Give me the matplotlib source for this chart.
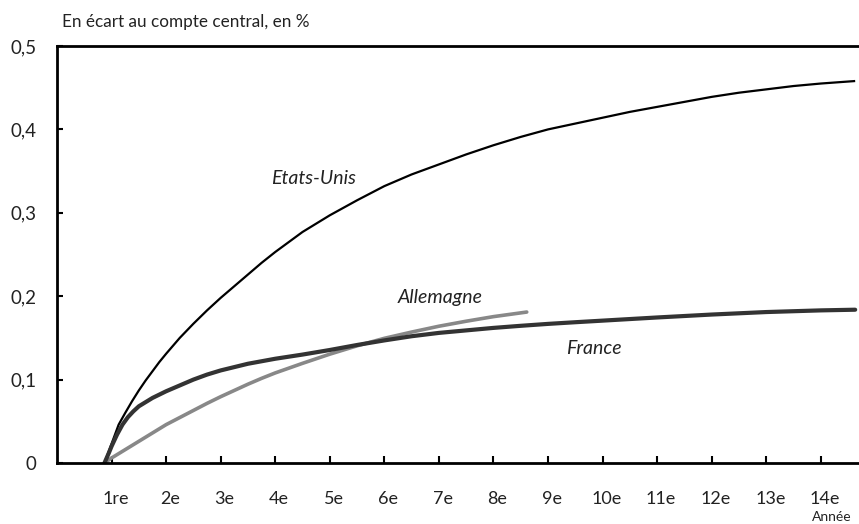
import numpy as np
import matplotlib
matplotlib.use("Agg")
import matplotlib.pyplot as plt
import matplotlib.transforms as mtransforms

plt.rcParams['font.family'] = ['Lato', 'DejaVu Sans']

# data (x in years, y in % deviation)
us_x = [0.87, 1.13, 1.25, 1.375, 1.5, 1.625, 1.75, 1.875, 2.0, 2.25, 2.5, 2.75, 3.0,
        3.25, 3.5, 3.75, 4.0, 4.25, 4.5, 4.75, 5.0, 5.5, 6.0, 6.5, 7.0, 7.5, 8.0,
        8.5, 9.0, 9.5, 10.0, 10.5, 11.0, 11.5, 12.0, 12.5, 13.0, 13.5, 14.0, 14.63]
us_y = [0.0, 0.046, 0.060, 0.074, 0.087, 0.099, 0.110, 0.121, 0.131, 0.150, 0.167,
        0.183, 0.198, 0.212, 0.226, 0.240, 0.253, 0.265, 0.277, 0.287, 0.297, 0.315,
        0.332, 0.346, 0.358, 0.370, 0.381, 0.391, 0.400, 0.407, 0.414, 0.421, 0.427,
        0.433, 0.439, 0.444, 0.448, 0.452, 0.455, 0.458]

fr_x = [0.87, 0.95, 1.0, 1.1, 1.2, 1.3, 1.4, 1.5, 1.625, 1.75, 1.875, 2.0, 2.25, 2.5,
        2.75, 3.0, 3.25, 3.5, 3.75, 4.0, 4.5, 5.0, 5.5, 6.0, 6.5, 7.0, 7.5, 8.0, 8.5,
        9.0, 9.5, 10.0, 11.0, 12.0, 13.0, 14.0, 14.63]
fr_y = [0.0, 0.012, 0.020, 0.034, 0.046, 0.055, 0.062, 0.068, 0.073, 0.078, 0.082,
        0.086, 0.093, 0.100, 0.106, 0.111, 0.115, 0.119, 0.122, 0.125, 0.130, 0.1355,
        0.1415, 0.147, 0.152, 0.156, 0.159, 0.162, 0.1645, 0.1668, 0.1688, 0.1707,
        0.1745, 0.178, 0.181, 0.183, 0.1838]

de_x = [0.87, 1.0, 1.25, 1.5, 1.75, 2.0, 2.25, 2.5, 2.75, 3.0, 3.25, 3.5, 3.75, 4.0,
        4.5, 5.0, 5.5, 6.0, 6.5, 7.0, 7.5, 8.0, 8.61]
de_y = [0.0, 0.006, 0.016, 0.026, 0.036, 0.046, 0.0545, 0.063, 0.0715, 0.0795, 0.087,
        0.0945, 0.1015, 0.108, 0.1195, 0.1305, 0.1405, 0.1495, 0.157, 0.164, 0.170,
        0.1755, 0.181]

ticks_x = list(range(1, 15))
labels_x = ["1re"] + ["%de" % i for i in range(2, 15)]
ticks_y = [0, 0.1, 0.2, 0.3, 0.4, 0.5]
labels_y = ["0", "0,1", "0,2", "0,3", "0,4", "0,5"]

fig = plt.figure(figsize=(8.59, 5.24), dpi=100)
ax = fig.add_axes([57/859, 1 - 463/524, 1 - 57/859, (463 - 46)/524])

ax.plot(us_x, us_y, color='black', lw=1.6, solid_capstyle='butt')
ax.plot(de_x, de_y, color='#888888', lw=2.6, solid_capstyle='round')
ax.plot(fr_x, fr_y, color='#333333', lw=3.0, solid_capstyle='round')

ax.set_xlim(0, 14.70)
ax.set_ylim(0, 0.5)

ax.set_xticks(ticks_x)
ax.set_xticklabels(labels_x, fontsize=13, color='#222222')
ax.set_yticks(ticks_y)
ax.set_yticklabels(labels_y, fontsize=13.5, color='#222222')
ax.tick_params(axis='x', direction='in', length=5, width=1.5, pad=20)
ax.tick_params(axis='y', direction='in', length=4, width=1.5, pad=15)

# shift x labels slightly to the right like in the original
offset = mtransforms.ScaledTranslation(4/100, 0, fig.dpi_scale_trans)
for lab in ax.get_xticklabels():
    lab.set_transform(lab.get_transform() + offset)

for side in ['left', 'top', 'bottom']:
    ax.spines[side].set_linewidth(2)
ax.spines['right'].set_visible(False)

# series names, placed in pixel positions of the original
for name, px, py in [("Etats-Unis", 313, 178), ("Allemagne", 440, 297), ("France", 594, 348)]:
    fig.text(px/859, 1 - py/524, name, fontsize=14, style='italic',
             ha='center', va='center', color='#222222')

fig.text(62/859, 1 - 22/524, "En écart au compte central, en %", fontsize=12.3,
         ha='left', va='center', color='#222222')
fig.text(812/859, 1 - 517/524, "Année", fontsize=10, ha='left', va='center',
         color='#222222')

fig.savefig("out.png", dpi=100)
